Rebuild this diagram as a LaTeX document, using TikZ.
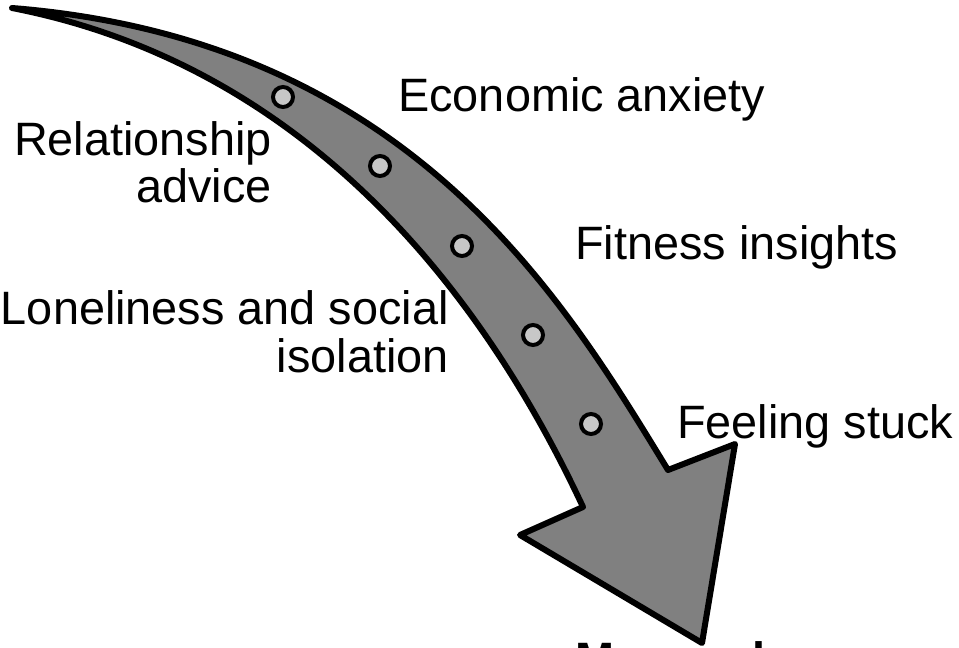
\documentclass[tikz,border=0pt]{standalone}
\usepackage{fontspec}
\setmainfont{Liberation Sans}
\begin{document}
\begin{tikzpicture}[x=0.025cm, y=-0.025cm,
    stop/.style={circle, draw=black, line width=0.1cm, fill=black!22, minimum size=0.5cm, inner sep=0pt},
    lbl/.style={inner sep=0pt, font=\fontsize{33.3}{34}\selectfont}]
        \useasboundingbox (0,0) rectangle (959,648);

        % Curved arrow
        \draw[line width=0.15cm, line join=round, fill=black!50]
            (12,8) .. controls (411,40) and (564,300) .. (668,470)
            -- (735,444) -- (702,643) -- (520,535) -- (583,507)
            .. controls (511,353) and (346,73) .. (12,8) -- cycle;

        % Stops along the arrow
        \foreach \n/\x/\y in {1/283/97, 2/380/166, 3/462/246, 4/533/335, 5/591/424} {
            \node[stop] (s\n) at (\x,\y) {};
        }

        % Labels
        \node[lbl, anchor=base west] (econ) at (398,112) {Economic anxiety};
        \node[lbl, anchor=base east, align=right] (rel) at (272,203) {Relationship\\advice};
        \node[lbl, anchor=base west] (fit) at (575,260) {Fitness insights};
        \node[lbl, anchor=base east, align=right] (lone) at (449,372) {Loneliness and social\\isolation};
        \node[lbl, anchor=base west] (stuck) at (677,438) {Feeling stuck};
        \node[lbl, anchor=base west, font=\fontsize{33.3}{34}\selectfont\bfseries] (mano) at (575,675) {Manosphere};
\end{tikzpicture}
\end{document}
